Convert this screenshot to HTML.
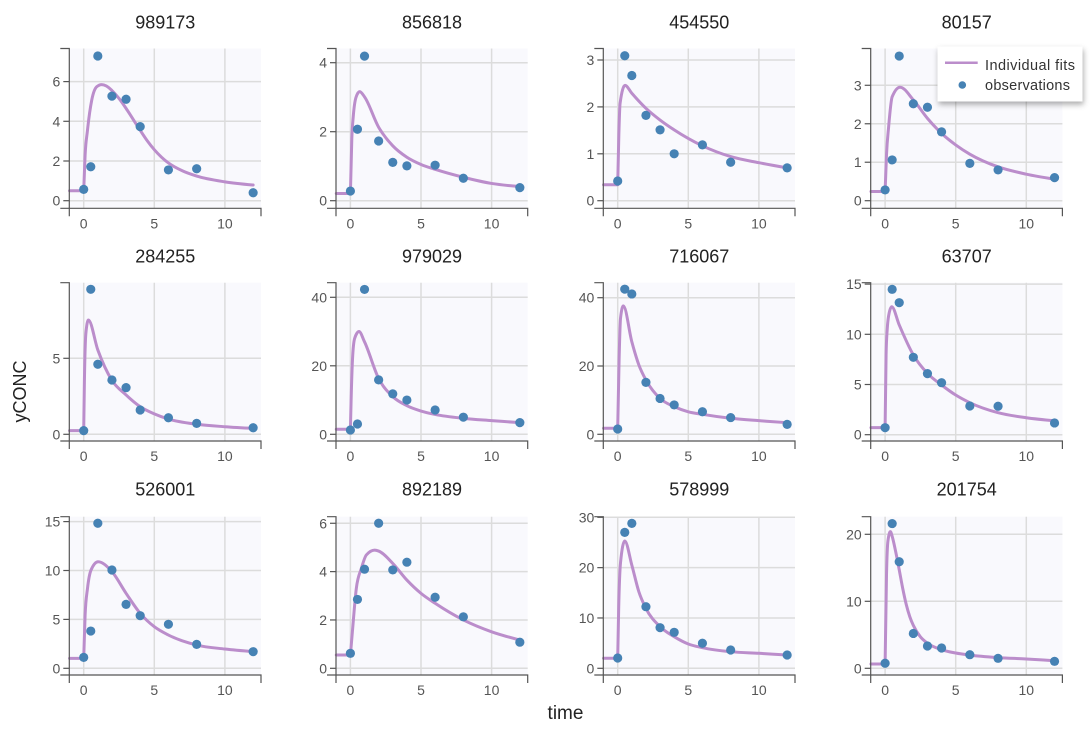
<!DOCTYPE html>
<html>
<head>
<meta charset="utf-8">
<style>
  html, body { margin: 0; padding: 0; background: #ffffff; }
  svg { display: block; }
</style>
</head>
<body>
<svg id="chart" xmlns="http://www.w3.org/2000/svg" width="1091" height="732" viewBox="0 0 1091 732" font-family="'Liberation Sans', sans-serif">
  <defs>
    <filter id="sh" x="-20%" y="-30%" width="150%" height="180%">
      <feDropShadow dx="1" dy="3" stdDeviation="3" flood-color="#000" flood-opacity="0.33"/>
    </filter>
  </defs>
  <text x="565.5" y="719" font-size="19" text-anchor="middle" fill="#222">time</text>
  <text x="26" y="391.5" font-size="18" text-anchor="middle" fill="#222" transform="rotate(-90 26 391.5)">yCONC</text>
</svg>
<script>
(function(){
  var NS = "http://www.w3.org/2000/svg";
  var svg = document.getElementById("chart");
  function el(name, attrs, parent, text){
    var e = document.createElementNS(NS, name);
    for (var k in attrs) e.setAttribute(k, attrs[k]);
    if (text !== undefined) e.textContent = text;
    (parent || svg).appendChild(e);
    return e;
  }
  var cols = [69.3, 336, 603.3, 870.7];
  var tops = [48.5, 282.7, 516.7];
  var bots = [208.3, 441, 675];
  var T = [0, 0.5, 1, 2, 3, 4, 6, 8, 12];
  var PX = 14.12, OFF = 14.4, W = 191.7;
  var LINE = "#bb8dcb", DOT = "#4682b4";

  var P = [
    {t:"989173",c:0,r:0,y0:200.7,k:19.85,ticks:[0,2,4,6],b:0.5,
     cv:[[0.1,2.3],[0.26,3.5],[0.57,5.07],[0.92,5.74],[1.27,5.85],[1.6,5.78],[2,5.55],[2.5,5.15],[3,4.65],[3.5,4.1],[4,3.55],[4.5,3.02],[5,2.57],[5.5,2.2],[6,1.9],[7,1.5],[8,1.24],[10,0.95],[12,0.79]],
     ob:[0.57,1.71,7.29,5.27,5.11,3.73,1.55,1.61,0.40]},
    {t:"856818",c:1,r:0,y0:200.7,k:34.5,ticks:[0,2,4],b:0.21,
     cv:[[0.1,1.8],[0.2,2.43],[0.4,3.0],[0.66,3.16],[1,3.01],[2,2.13],[3,1.59],[4,1.26],[5,1.05],[6,0.91],[8,0.68],[10,0.5],[12,0.41]],
     ob:[0.28,2.07,4.19,1.73,1.11,1.01,1.03,0.65,0.38]},
    {t:"454550",c:2,r:0,y0:200.7,k:46.9,ticks:[0,1,2,3],b:0.34,
     cv:[[0.08,1.4],[0.17,2.08],[0.52,2.46],[1,2.29],[2,1.97],[3,1.72],[4,1.51],[6,1.17],[8,0.94],[10,0.81],[12,0.70]],
     ob:[0.42,3.09,2.67,1.82,1.51,1.00,1.19,0.82,0.70]},
    {t:"80157",c:3,r:0,y0:200.7,k:38.47,ticks:[0,1,2,3],b:0.24,
     cv:[[0.1,1.2],[0.25,1.92],[0.5,2.70],[1.06,2.95],[2,2.62],[3,2.14],[4,1.75],[5,1.45],[6,1.21],[8,0.88],[10,0.69],[12,0.56]],
     ob:[0.28,1.06,3.76,2.52,2.43,1.79,0.97,0.80,0.60]},
    {t:"284255",c:0,r:1,y0:434.3,k:15.2,ticks:[0,5],b:0.24,
     cv:[[0.05,3.5],[0.15,6.6],[0.33,7.52],[1,5.55],[2,3.55],[3,2.59],[4,1.82],[5,1.34],[6,1.0],[8,0.66],[10,0.5],[12,0.39]],
     ob:[0.24,9.54,4.61,3.57,3.07,1.60,1.09,0.72,0.43]},
    {t:"979029",c:1,r:1,y0:434.3,k:3.425,ticks:[0,20,40],b:1.46,
     cv:[[0.05,10],[0.15,22],[0.3,28],[0.61,30],[1,27],[2,16.3],[3,11],[4,8.36],[5,6.8],[6,5.8],[8,4.66],[10,4.0],[12,3.4]],
     ob:[1.26,3.0,42.3,15.9,11.8,10.0,7.1,5.0,3.4]},
    {t:"716067",c:2,r:1,y0:434.3,k:3.415,ticks:[0,20,40],b:1.76,
     cv:[[0.1,22],[0.2,34],[0.4,37.6],[1,27.1],[1.5,20.3],[2,15.9],[3,10.5],[4,8.1],[5,6.6],[6,5.85],[8,4.7],[10,4.0],[12,3.4]],
     ob:[1.55,42.5,41.1,15.2,10.5,8.6,6.6,4.9,2.9]},
    {t:"63707",c:3,r:1,y0:434.7,k:10.04,ticks:[0,5,10,15],b:0.70,
     cv:[[0.07,8],[0.15,10.5],[0.3,12.2],[0.47,12.75],[1,10.93],[2,7.94],[3,6.11],[4,4.95],[5,3.95],[6,3.19],[8,2.19],[10,1.69],[12,1.39]],
     ob:[0.70,14.48,13.15,7.71,6.08,5.18,2.86,2.83,1.17]},
    {t:"526001",c:0,r:2,y0:668.3,k:9.78,ticks:[0,5,10,15],b:1.02,
     cv:[[0.1,5.45],[0.27,8.18],[0.52,10.05],[1.02,10.9],[2,9.88],[3,7.67],[4,5.62],[5,4.25],[6,3.4],[8,2.38],[10,1.97],[12,1.70]],
     ob:[1.12,3.81,14.83,10.05,6.54,5.38,4.5,2.45,1.70]},
    {t:"892189",c:1,r:2,y0:668.3,k:24.17,ticks:[0,2,4,6],b:0.55,
     cv:[[0.14,1.51],[0.42,3.31],[0.78,4.14],[1.13,4.69],[1.72,4.89],[2,4.85],[3,4.34],[4,3.65],[5,3.1],[6,2.69],[8,2.0],[10,1.51],[12,1.17]],
     ob:[0.62,2.85,4.10,6.0,4.07,4.39,2.94,2.13,1.08]},
    {t:"578999",c:2,r:2,y0:668.3,k:5.033,ticks:[0,10,20,30],b:1.99,
     cv:[[0.07,12],[0.2,21],[0.5,25.3],[1,20.5],[1.5,15.2],[2,11.9],[3,8.27],[4,6.28],[5,4.83],[6,4.1],[8,3.3],[10,2.98],[12,2.64]],
     ob:[2.05,27.0,28.8,12.24,8.07,7.15,4.97,3.64,2.64]},
    {t:"201754",c:3,r:2,y0:668.3,k:6.7,ticks:[0,10,20],b:0.64,
     cv:[[0.1,14],[0.2,19],[0.375,20.4],[0.5,19.7],[0.75,17.4],[1,14.7],[1.25,11.9],[1.5,9.5],[1.75,7.7],[2,6.4],[2.5,4.7],[3,3.75],[4,2.78],[5,2.28],[6,1.97],[8,1.6],[10,1.39],[12,1.13]],
     ob:[0.75,21.6,15.9,5.2,3.33,3.03,2.03,1.49,1.04]}
  ];

  function sign(x){ return x < 0 ? -1 : 1; }
  function monotonePath(pts){
    var n = pts.length, m = new Array(n), i;
    var s = [];
    for (i = 0; i < n-1; i++){
      var h = pts[i+1][0]-pts[i][0];
      s.push((pts[i+1][1]-pts[i][1])/h);
    }
    for (i = 1; i < n-1; i++){
      var h0 = pts[i][0]-pts[i-1][0], h1 = pts[i+1][0]-pts[i][0];
      var s0 = s[i-1], s1 = s[i];
      var p = (s0*h1 + s1*h0)/(h0+h1);
      m[i] = (sign(s0)+sign(s1)) * Math.min(Math.abs(s0), Math.abs(s1), 0.5*Math.abs(p)) || 0;
    }
    m[0] = n > 2 ? (3*s[0] - m[1])/2 : s[0];
    m[n-1] = n > 2 ? (3*s[n-2] - m[n-2])/2 : s[0];
    var d = "";
    for (i = 0; i < n-1; i++){
      var x0 = pts[i][0], y0 = pts[i][1], x1 = pts[i+1][0], y1 = pts[i+1][1];
      var dx = (x1-x0)/3;
      d += " C" + (x0+dx).toFixed(2) + "," + (y0+dx*m[i]).toFixed(2) + " " +
           (x1-dx).toFixed(2) + "," + (y1-dx*m[i+1]).toFixed(2) + " " +
           x1.toFixed(2) + "," + y1.toFixed(2);
    }
    return d;
  }

  P.forEach(function(p){
    var ax = cols[p.c], top = tops[p.r], bot = bots[p.r], right = ax + W;
    var X = function(t){ return ax + OFF + t*PX; };
    var Y = function(v){ return p.y0 - v*p.k; };
    var g = el("g", {});
    el("rect", {x:ax, y:top, width:W, height:bot-top, fill:"#f9f9fd"}, g);
    [0,5,10].forEach(function(t){
      el("line", {x1:X(t), x2:X(t), y1:top, y2:bot, stroke:"#dcdcdc", "stroke-width":1.5}, g);
    });
    p.ticks.forEach(function(v){
      el("line", {x1:ax, x2:right, y1:Y(v), y2:Y(v), stroke:"#dcdcdc", "stroke-width":1.5}, g);
    });
    var pts = [[X(0), Y(p.b)]].concat(p.cv.map(function(q){ return [X(q[0]), Y(q[1])]; }));
    var d = "M" + X(-1).toFixed(2) + "," + Y(p.b).toFixed(2) + " L" + X(0).toFixed(2) + "," + Y(p.b).toFixed(2) + monotonePath(pts);
    el("path", {d:d, fill:"none", stroke:LINE, "stroke-width":3, "stroke-linejoin":"round", "stroke-linecap":"round"}, g);
    p.ob.forEach(function(v, i){
      el("circle", {cx:X(T[i]), cy:Y(v), r:4.6, fill:DOT}, g);
    });
    el("path", {d:"M"+ax+","+(bot+8)+" V"+bot+" H"+right+" V"+(bot+8), fill:"none", stroke:"#555", "stroke-width":1.2}, g);
    el("path", {d:"M"+(ax-9)+","+top+" H"+ax+" V"+bot+" H"+(ax-9), fill:"none", stroke:"#555", "stroke-width":1.2}, g);
    p.ticks.forEach(function(v){
      el("line", {x1:ax-6, x2:ax, y1:Y(v), y2:Y(v), stroke:"#555", "stroke-width":1.2}, g);
      el("text", {x:ax-9, y:Y(v)+5, "font-size":14, "text-anchor":"end", fill:"#555"}, g, String(v));
    });
    [0,5,10].forEach(function(t){
      el("text", {x:X(t), y:bot+20, "font-size":14, "text-anchor":"middle", fill:"#555"}, g, String(t));
    });
    el("text", {x:ax+96, y:[28.5,262.5,495.5][p.r], "font-size":18, "text-anchor":"middle", fill:"#222"}, g, p.t);
  });

  var lg = el("g", {});
  el("rect", {x:937.5, y:46.5, width:145, height:55, fill:"#ffffff", filter:"url(#sh)"}, lg);
  el("line", {x1:945, x2:977.7, y1:62.7, y2:62.7, stroke:LINE, "stroke-width":2.5}, lg);
  el("circle", {cx:962.3, cy:85, r:3.8, fill:DOT}, lg);
  el("text", {x:985, y:70, "font-size":14.5, fill:"#333", textLength:90, lengthAdjust:"spacing"}, lg, "Individual fits");
  el("text", {x:985, y:90, "font-size":14.5, fill:"#333", textLength:85, lengthAdjust:"spacing"}, lg, "observations");
})();
</script>
</body>
</html>
